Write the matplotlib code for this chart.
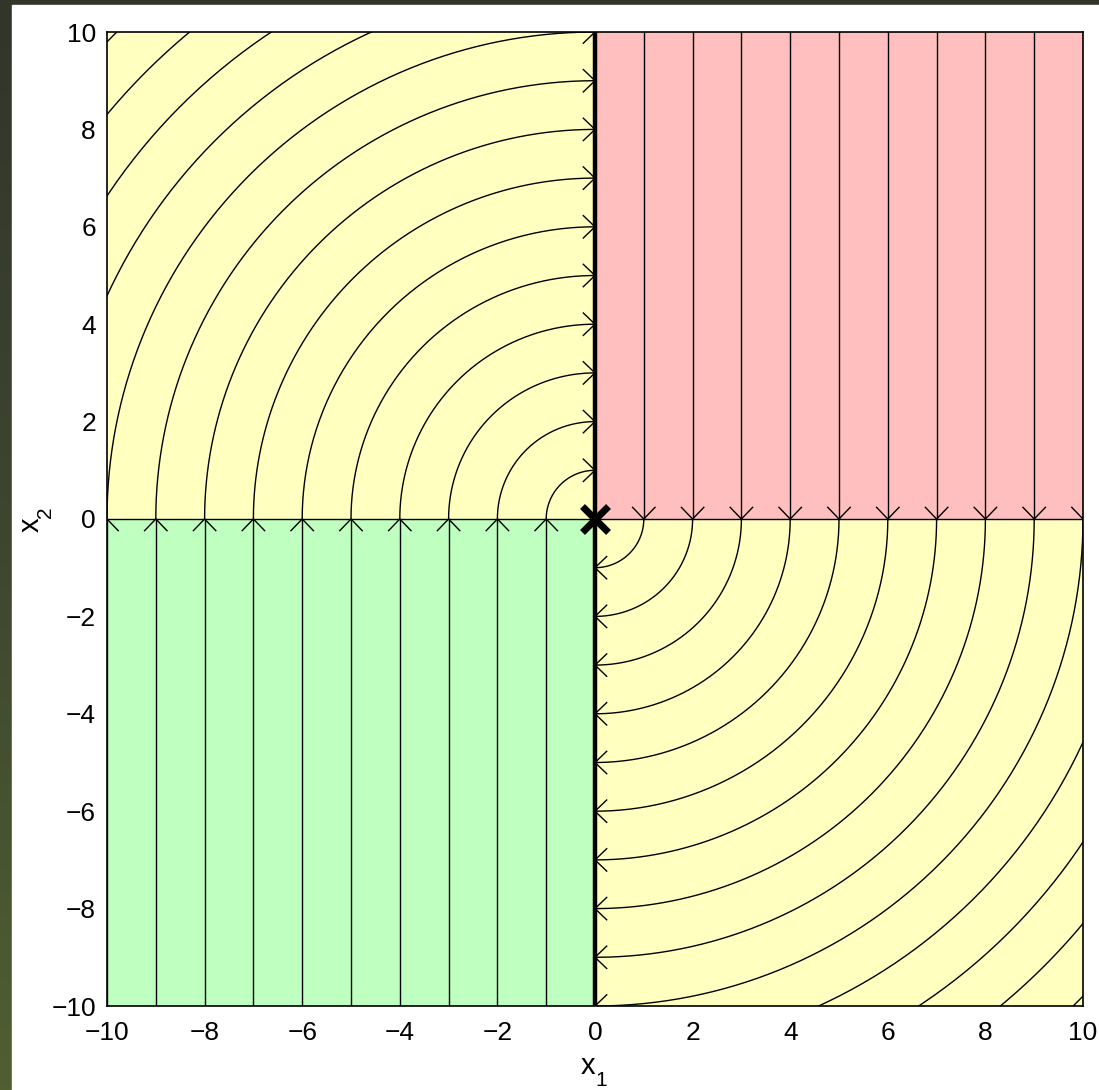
import numpy as np
import matplotlib
matplotlib.use("Agg")
import matplotlib.pyplot as plt
from matplotlib.patches import Rectangle
from matplotlib.colors import LinearSegmentedColormap

# ---- data ----
circle_radii = [1, 2, 3, 4, 5, 6, 7, 8, 9, 10, 11, 12, 13, 14]
arrow_radii = [1, 2, 3, 4, 5, 6, 7, 8, 9, 10]
pink_x = [1, 2, 3, 4, 5, 6, 7, 8, 9, 10]
green_x = [-1, -2, -3, -4, -5, -6, -7, -8, -9, -10]
ticks = [-10, -8, -6, -4, -2, 0, 2, 4, 6, 8, 10]
tick_labels = ["\u221210", "\u22128", "\u22126", "\u22124", "\u22122", "0", "2", "4", "6", "8", "10"]

YELLOW = "#FFFFC0"
PINK = "#FFBFBF"
GREEN = "#BFFFBF"

plt.rcParams["font.family"] = ["Liberation Sans", "DejaVu Sans"]

fig = plt.figure(figsize=(10.99, 10.90), dpi=100)
W, H = 1099, 1090

# background gradient + white panel
bg = fig.add_axes([0, 0, 1, 1])
cmap = LinearSegmentedColormap.from_list("bg", ["#32352A", "#3E4630", "#505F30"])
grad = np.linspace(0, 1, 256).reshape(-1, 1)
bg.imshow(grad, aspect="auto", cmap=cmap, extent=[0, 1, 0, 1], origin="upper")
bg.add_patch(Rectangle((12 / W, 0), 1 - 12 / W, 1 - 5 / H, color="white", zorder=2))
bg.set_xlim(0, 1)
bg.set_ylim(0, 1)
bg.axis("off")

ax = fig.add_axes([107 / W, 1 - 1006 / H, (1083 - 107) / W, (1006 - 32) / H])
ax.set_xlim(-10, 10)
ax.set_ylim(-10, 10)

# quadrant fills
ax.add_patch(Rectangle((-10, 0), 10, 10, facecolor=YELLOW, edgecolor="none", zorder=0))
ax.add_patch(Rectangle((0, 0), 10, 10, facecolor=PINK, edgecolor="none", zorder=0))
ax.add_patch(Rectangle((-10, -10), 10, 10, facecolor=GREEN, edgecolor="none", zorder=0))
ax.add_patch(Rectangle((0, -10), 10, 10, facecolor=YELLOW, edgecolor="none", zorder=0))

lw = 1.0
t = np.linspace(0, np.pi / 2, 200)
for r in circle_radii:
    ax.plot(-r * np.cos(t), r * np.sin(t), color="k", lw=lw, zorder=2)
    ax.plot(r * np.cos(t), -r * np.sin(t), color="k", lw=lw, zorder=2)

for x in pink_x:
    ax.plot([x, x], [0, 10], color="k", lw=lw, zorder=2)
for x in green_x:
    ax.plot([x, x], [-10, 0], color="k", lw=lw, zorder=2)

ax.axhline(0, color="k", lw=lw, zorder=2)

back, side = 0.25, 0.24


def chevron(tx, ty, dx, dy):
    px, py = -dy, dx
    xs = [tx - back * dx + side * px, tx, tx - back * dx - side * px]
    ys = [ty - back * dy + side * py, ty, ty - back * dy - side * py]
    ax.plot(xs, ys, color="k", lw=lw, zorder=3, solid_capstyle="butt")


for r in arrow_radii:
    chevron(0, r, 1, 0)
    chevron(0, -r, -1, 0)
for x in pink_x:
    chevron(x, 0, 0, -1)
for x in green_x:
    chevron(x, 0, 0, 1)

ax.plot([0, 0], [-10, 10], color="k", lw=3.2, zorder=4, solid_capstyle="butt")
ax.plot([0], [0], marker="x", markersize=19, mew=5, color="k", zorder=5)

ax.set_xticks(ticks)
ax.set_xticklabels(tick_labels)
ax.set_yticks(ticks)
ax.set_yticklabels(tick_labels)
ax.tick_params(length=0, labelsize=19)
ax.tick_params(axis="x", pad=11)
ax.tick_params(axis="y", pad=8)
for s in ax.spines.values():
    s.set_linewidth(1.2)
    s.set_zorder(6)


def fx(px):
    return px / W


def fy(py):
    return 1 - py / H


# axis labels with MATLAB-style subscripts
fig.text(fx(588), fy(1066), "x", fontsize=21, ha="center", va="center")
fig.text(fx(601), fy(1080), "1", fontsize=15, ha="center", va="center")
fig.text(fx(31), fy(525), "x", fontsize=21, ha="center", va="center", rotation=90)
fig.text(fx(46), fy(512), "2", fontsize=15, ha="center", va="center", rotation=90)

fig.savefig("out.png", dpi=100)
